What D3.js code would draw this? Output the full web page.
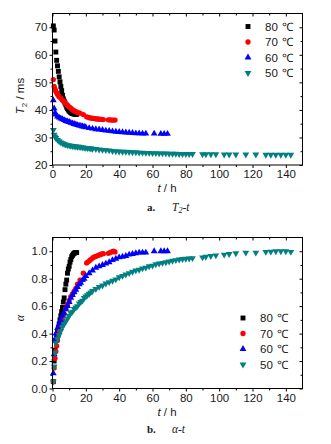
<!DOCTYPE html>
<html><head><meta charset="utf-8">
<script src="https://cdn.jsdelivr.net/npm/d3@7"></script>
<style>body{margin:0;background:#fff}svg{display:block}text{font-family:"Liberation Sans",Arial,sans-serif}</style>
</head><body><svg id="c" width="331" height="444"></svg>
<script>
// ---------- data ----------
const seriesNames = ["80 ℃","70 ℃","60 ℃","50 ℃"];
const t80 = [0.5,1,1.5,2,2.5,3,3.5,4,4.5,5,5.5,6,6.5,7,7.5,8,8.5,9,9.5,10,10.5,11,11.5,12,12.5,13,13.5,14,14.5];
const T2_80 = [70.5,69,65,61,58,56,54,52,50.2,48.5,47,45.3,44,43.2,42.5,41.8,41,40.5,40,39.6,39.3,39,38.8,38.7,38.6,38.5,38.5,38.4,38.4];
const a80 = [0.05,0.2,0.28,0.35,0.38,0.41,0.44,0.47,0.5,0.53,0.56,0.59,0.63,0.66,0.72,0.76,0.79,0.84,0.87,0.89,0.92,0.94,0.96,0.97,0.98,0.985,0.99,0.99,0.99];

const t70 = [0.5,1,1.5,2,2.5,3,3.5,4,5,6,7,8,9,10,11,12,13,14,15,16.5,18.5,20.5,21.5,22.5,23.5,24.5,25.5,26.5,27.5,28.5,29.5,30.5,33.5,34.5,35.5,36.5,37.5];
const T2_70 = [51,48.5,47.5,46.8,46.2,45.7,45.2,44.8,44.2,43.5,43,42.3,41.7,41.1,40.6,40.1,39.7,39.4,39.1,38.8,38.3,37.5,37.3,37.1,37,36.9,36.8,36.7,36.7,36.6,36.6,36.5,36.4,36.4,36.3,36.3,36.3];
const a70 = [0.05,0.15,0.22,0.27,0.31,0.35,0.39,0.42,0.46,0.5,0.54,0.58,0.61,0.64,0.67,0.69,0.71,0.73,0.76,0.79,0.84,0.915,0.925,0.935,0.945,0.955,0.96,0.965,0.97,0.975,0.98,0.982,0.985,0.99,0.995,1.0,0.995];

const t60 = [0.5,1,1.5,2,3,4,5,6,7,8,9,10,11,12,13,14,15,16,17,18,19,20,22,24,26,28,30,32,34,36,38,40,42,44,46,48,50,52,54,56,61,65,67,69];
const T2_60 = [43.5,40.5,39,38.3,37.6,37.2,36.9,36.6,36.3,36,35.8,35.6,35.3,35.1,34.9,34.7,34.5,34.3,34.2,34,33.9,33.7,33.4,33.2,33,32.9,32.7,32.5,32.4,32.2,32.1,32,31.9,31.8,31.7,31.6,31.5,31.5,31.4,31.4,31.4,31.3,31.3,31.3];
const a60 = [0.11,0.25,0.36,0.4,0.44,0.47,0.5,0.53,0.55,0.58,0.6,0.63,0.66,0.68,0.7,0.72,0.74,0.76,0.77,0.79,0.8,0.82,0.84,0.86,0.88,0.89,0.9,0.91,0.92,0.935,0.945,0.955,0.96,0.965,0.975,0.98,0.985,0.99,0.99,0.99,1.0,1.0,1.0,1.0];

const t50 = [0.5,1,1.5,2,3,4,5,6,7,8,9,10,11,12,13,14,15,16,17,18,19,20,21,22,23,24,26,28,30,32,34,36,38,40,42,44,46,48,50,52,54,56,58,60,62,64,66,68,70,72,74,76,78,80,82,84,90,92,95,98,103,106,110,116,122,128,131,134,137,140,143];
const T2_50 = [32.7,31,30.3,29.8,29.1,28.6,28.2,27.9,27.6,27.4,27.2,27.1,27,26.9,26.8,26.7,26.6,26.6,26.5,26.4,26.3,26.2,26.1,26.1,26,25.9,25.8,25.6,25.5,25.4,25.3,25.1,25,24.9,24.8,24.8,24.7,24.6,24.6,24.5,24.5,24.4,24.4,24.3,24.3,24.2,24.2,24.2,24.1,24.1,24.1,24,24,24,24,24,23.9,23.9,23.9,23.9,23.8,23.8,23.8,23.8,23.8,23.7,23.7,23.7,23.7,23.7,23.7];
const a50 = [0.05,0.16,0.26,0.33,0.36,0.39,0.42,0.45,0.47,0.49,0.51,0.53,0.55,0.56,0.58,0.59,0.6,0.62,0.63,0.64,0.66,0.67,0.68,0.69,0.7,0.71,0.725,0.74,0.75,0.765,0.775,0.785,0.795,0.81,0.82,0.83,0.84,0.85,0.86,0.865,0.875,0.88,0.89,0.895,0.905,0.91,0.915,0.92,0.925,0.93,0.935,0.94,0.943,0.945,0.947,0.95,0.955,0.96,0.965,0.97,0.975,0.98,0.985,0.99,0.99,0.995,0.997,1.0,1.0,1.0,0.995];

const xTicks = [0,20,40,60,80,100,120,140];
const yTicksTop = [20,30,40,50,60,70];
const yTicksBot = [0.0,0.2,0.4,0.6,0.8,1.0];

// ---------- styles ----------
const colors = ["#000000","#ff0000","#0000ff","#008080"];
const shapes = [d3.symbolSquare, d3.symbolCircle, d3.symbolTriangle, d3.symbolTriangle];
const sizes = [24, 22, 20, 20];
const rots = [0,0,0,180];

const svg = d3.select("#c");
const tS = [t80,t70,t60,t50];
const T2S = [T2_80,T2_70,T2_60,T2_50];
const aS = [a80,a70,a60,a50];

function panel(o){
  const x = d3.scaleLinear([0,150],[52.5,302.5]);
  const y = d3.scaleLinear(o.ydom,[o.bottom,o.top]);
  const g = svg.append("g");
  for(let s=0;s<4;s++){
    const pts = tS[s].map((t,i)=>[t,o.vals[s][i]]);
    g.append("g").selectAll("path").data(pts).join("path")
      .attr("d", d3.symbol(shapes[s], sizes[s]))
      .attr("transform", d=>`translate(${x(d[0])},${y(d[1])}) rotate(${rots[s]})`)
      .attr("fill", colors[s]);
  }
  g.append("rect").attr("x",x.range()[0]).attr("y",o.top)
    .attr("width",x.range()[1]-x.range()[0]).attr("height",o.bottom-o.top)
    .attr("fill","none").attr("stroke","#000").attr("stroke-width",1);
  const xMinor = d3.range(10,150,20);
  const yMinor = o.yMinor;
  const styleAx = a=>{a.select(".domain").remove(); a.selectAll("line").attr("stroke","#000");
    a.selectAll("text").attr("font-size",11.5).attr("fill","#1a1a1a").style("font-family",'"Liberation Sans",Arial,sans-serif');};
  g.append("g").attr("transform",`translate(0,${o.bottom})`)
    .call(d3.axisBottom(x).tickValues(xTicks).tickSize(3).tickPadding(2).tickFormat(d3.format("d"))).call(styleAx);
  g.append("g").attr("transform",`translate(0,${o.bottom})`)
    .call(d3.axisBottom(x).tickValues(xMinor).tickSize(2).tickFormat("")).call(styleAx);
  g.append("g").attr("transform",`translate(0,${o.top})`)
    .call(d3.axisBottom(x).tickValues(xTicks).tickSize(3).tickFormat("")).call(styleAx);
  g.append("g").attr("transform",`translate(0,${o.top})`)
    .call(d3.axisBottom(x).tickValues(xMinor).tickSize(2).tickFormat("")).call(styleAx);
  g.append("g").attr("transform",`translate(52.5,0)`)
    .call(d3.axisLeft(y).tickValues(o.yTicks).tickSize(3).tickPadding(2).tickFormat(o.fmt)).call(styleAx);
  g.append("g").attr("transform",`translate(52.5,0)`)
    .call(d3.axisLeft(y).tickValues(yMinor).tickSize(2).tickFormat("")).call(styleAx);
  g.append("g").attr("transform",`translate(302.5,0)`)
    .call(d3.axisLeft(y).tickValues(o.yTicks).tickSize(3).tickFormat("")).call(styleAx);
  g.append("g").attr("transform",`translate(302.5,0)`)
    .call(d3.axisLeft(y).tickValues(yMinor).tickSize(2).tickFormat("")).call(styleAx);
  seriesNames.forEach((n,i)=>{
    const ly = o.legY + i*15.5;
    g.append("path").attr("d", d3.symbol(shapes[i], sizes[i]))
      .attr("transform",`translate(${o.legX},${ly}) rotate(${rots[i]})`).attr("fill",colors[i]);
    const parts = n.split(" ");
    const tx = g.append("text").attr("x",o.legX+17).attr("y",ly+4).attr("font-size",11.5).attr("fill","#1a1a1a");
    tx.append("tspan").text(parts[0]);
    tx.append("tspan").attr("dx",4).text(parts[1]);
  });
  const xl = g.append("text").attr("x",167).attr("y",o.bottom+27).attr("text-anchor","middle").attr("font-size",11.5).attr("fill","#1a1a1a");
  xl.append("tspan").attr("font-style","italic").text("t");
  xl.append("tspan").text(" / h");
  return g;
}

panel({ydom:[20,75], top:13.5, bottom:165, vals:T2S, yTicks:yTicksTop, yMinor:[25,35,45,55,65], fmt:d3.format("d"), legX:248, legY:26.5});
panel({ydom:[0,1.1], top:237.5, bottom:388.5, vals:aS, yTicks:yTicksBot, yMinor:[0.1,0.3,0.5,0.7,0.9], fmt:d3.format(".1f"), legX:243, legY:318});

const yl1 = svg.append("text").attr("transform","translate(24,96) rotate(-90)").attr("text-anchor","middle").attr("font-size",11.5).attr("fill","#1a1a1a");
yl1.append("tspan").attr("font-style","italic").text("T");
yl1.append("tspan").attr("font-size",8).attr("dy",3).text("2");
yl1.append("tspan").attr("dy",-3).text(" / ms");
svg.append("text").attr("transform","translate(24,318) rotate(-90)").attr("text-anchor","middle").attr("font-size",12).attr("font-style","italic").style("font-family","'Liberation Serif',serif").attr("fill","#1a1a1a").text("α");

function caption(y, lab, parts){
  svg.append("text").attr("x",147).attr("y",y).attr("font-size",11).attr("font-weight","bold").attr("fill","#1a1a1a").style("font-family","'Liberation Serif',serif").text(lab);
  const t = svg.append("text").attr("x",172).attr("y",y).attr("font-size",11.5).attr("font-style","italic").attr("fill","#1a1a1a").style("font-family","'Liberation Serif',serif");
  parts.forEach(p=>{const s=t.append("tspan").text(p.t); if(p.sub){s.attr("font-size",8).attr("dy",2);} if(p.up){s.attr("dy",-2);} });
}
caption(211, "a.", [{t:"T"},{t:"2",sub:true},{t:"-t",up:true}]);
caption(433, "b.", [{t:"α-t"}]);
</script></body></html>
